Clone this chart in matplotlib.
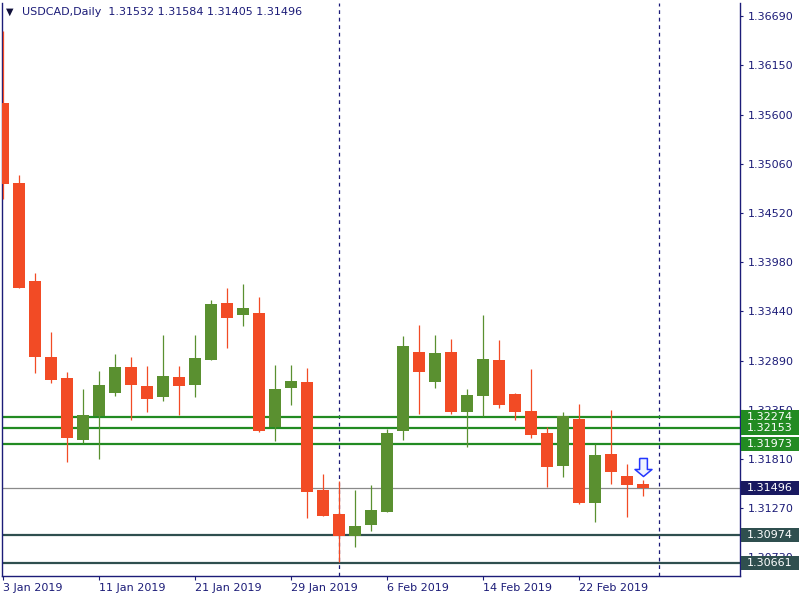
import matplotlib
matplotlib.use("Agg")
import matplotlib.pyplot as plt
import matplotlib.transforms as mtransforms
from matplotlib.patches import Rectangle
from matplotlib.path import Path
import pandas as pd

# USDCAD daily candles, 3 Jan - 28 Feb 2019
SYMBOL = "USDCAD,Daily"
dates = pd.bdate_range("2019-01-03", "2019-02-28")

opens = [1.35733, 1.34852, 1.33772, 1.32934, 1.32703, 1.32019, 1.32284, 1.32537,
         1.32824, 1.32614, 1.32493, 1.32714, 1.32625, 1.32901, 1.33529, 1.33397,
         1.33419, 1.32163, 1.32592, 1.32659, 1.31468, 1.31204, 1.30961, 1.31083,
         1.31226, 1.32119, 1.32989, 1.32659, 1.32989, 1.32328, 1.32504, 1.32901,
         1.32526, 1.32339, 1.32096, 1.31733, 1.32251, 1.31325, 1.31865, 1.31623,
         1.31532]
highs = [1.36527, 1.34940, 1.33860, 1.33210, 1.32769, 1.32581, 1.32780, 1.32967,
         1.32934, 1.32835, 1.33176, 1.32835, 1.33176, 1.33562, 1.33694, 1.33739,
         1.33595, 1.32846, 1.32846, 1.32813, 1.31645, 1.31568, 1.31468, 1.31523,
         1.32141, 1.33165, 1.33287, 1.33176, 1.33132, 1.32581, 1.33397, 1.33121,
         1.32537, 1.32802, 1.32163, 1.32328, 1.32416, 1.31975, 1.32350, 1.31755,
         1.31584]
lows = [1.34675, 1.33694, 1.32758, 1.32648, 1.31777, 1.31986, 1.31810, 1.32504,
        1.32240, 1.32328, 1.32449, 1.32295, 1.32493, 1.32901, 1.33033, 1.33276,
        1.32108, 1.32008, 1.32405, 1.31160, 1.31182, 1.30675, 1.30840, 1.31017,
        1.31226, 1.32019, 1.32306, 1.32592, 1.32306, 1.31942, 1.32284, 1.32372,
        1.32240, 1.32041, 1.31501, 1.31612, 1.31314, 1.31116, 1.31535, 1.31171,
        1.31405]
closes = [1.34841, 1.33694, 1.32934, 1.32681, 1.32041, 1.32295, 1.32625, 1.32824,
          1.32625, 1.32471, 1.32725, 1.32614, 1.32923, 1.33518, 1.33364, 1.33474,
          1.32119, 1.32581, 1.32670, 1.31446, 1.31182, 1.30961, 1.31072, 1.31248,
          1.32096, 1.33055, 1.32769, 1.32978, 1.32328, 1.32515, 1.32912, 1.32405,
          1.32328, 1.32075, 1.31722, 1.32284, 1.31325, 1.31854, 1.31667, 1.31523,
          1.31496]

green_levels = [1.32274, 1.32153, 1.31973]
slate_levels = [1.30974, 1.30661]
bid_price = closes[-1]

price_ticks = [1.36690, 1.36150, 1.35600, 1.35060, 1.34520, 1.33980, 1.33440,
               1.32890, 1.32350, 1.31810, 1.31270, 1.30730]

BULL = "#5a9030"
BEAR = "#f24b25"
NAVY = "#1c1c78"
GREEN_LINE = "#228b22"
SLATE = "#2f4f4f"

# plot area in pixels: x 2..740, y 3..576
fig = plt.figure(figsize=(8, 6), dpi=100)
ax = fig.add_axes([2 / 800, 24 / 600, 738 / 800, 573 / 600])
Y_LO, Y_HI = 1.30521, 1.36835

x = list(range(len(dates)))
for i in x:
    o, h, l, c = opens[i], highs[i], lows[i], closes[i]
    col = BULL if c >= o else BEAR
    ax.vlines(i, l, h, color=col, lw=0.9, zorder=3)
    ax.bar(i, max(abs(c - o), 0.00003), bottom=min(o, c), width=0.69,
           color=col, linewidth=0, zorder=3)

for lvl in green_levels:
    ax.axhline(lvl, color=GREEN_LINE, lw=1.6, zorder=2)
for lvl in slate_levels:
    ax.axhline(lvl, color=SLATE, lw=1.6, zorder=2)
ax.axhline(bid_price, color="#8a8a8a", lw=0.9, zorder=1)

# month separators (dashed)
future = pd.bdate_range(dates[0], "2019-03-08")
for i in range(1, len(future)):
    if future[i].month != future[i - 1].month:
        ax.axvline(i, color=NAVY, lw=0.9, ls=(0, (3, 3)), zorder=1)

# sell arrow above the last bar
arrow = Path([(-0.43, 1.0), (0.43, 1.0), (0.43, -0.22), (0.94, -0.22),
              (0.0, -1.0), (-0.94, -0.22), (-0.43, -0.22), (-0.43, 1.0)])
ax.plot(x[-1], highs[-1] + 0.00143, marker=arrow, ms=13, mfc="#eef3ff",
        mec="#2437ff", mew=1.1, zorder=6)

ax.set_xlim(-1 / 16, 737 / 16)
ax.set_ylim(Y_LO, Y_HI)

for side in ["left", "bottom", "right"]:
    ax.spines[side].set_color(NAVY)
    ax.spines[side].set_linewidth(1.0)
ax.spines["top"].set_visible(False)

ax.yaxis.tick_right()
ax.set_yticks(price_ticks)
ax.set_yticklabels([f"{p:.5f}" for p in price_ticks])
ax.tick_params(axis="y", direction="out", length=2.5, width=0.8, pad=3,
               colors=NAVY, labelsize=8)

xt = x[::6]
ax.set_xticks(xt)
ax.set_xticklabels([f"{d.day} {d:%b %Y}" for d in dates[::6]])
ax.tick_params(axis="x", direction="out", length=3, width=0.8, pad=2,
               colors=NAVY, labelsize=8)
for lab in ax.get_xticklabels():
    lab.set_ha("left")

# price tags on the right scale
tag_tf = mtransforms.blended_transform_factory(ax.transAxes, ax.transData)
px = (Y_HI - Y_LO) / 573
tags = [(p, GREEN_LINE) for p in green_levels] + [(bid_price, "#191960")] + \
       [(p, SLATE) for p in slate_levels]
for p, col in tags:
    ax.add_patch(Rectangle((1.0 + 1 / 738, p - 7 * px), 58 / 738, 14 * px,
                           transform=tag_tf, facecolor=col, edgecolor="none",
                           clip_on=False, zorder=8))
    ax.text(1.0 + 7 / 738, p, f"{p:.5f}", transform=tag_tf, ha="left",
            va="center", color="white", fontsize=8, clip_on=False, zorder=9)

fig.text(6 / 800, 1 - 12 / 600, "\u25bc", fontsize=7, color="#10103a", va="center")
fig.text(22 / 800, 1 - 12 / 600,
         f"{SYMBOL}  {opens[-1]:.5f} {highs[-1]:.5f} {lows[-1]:.5f} {closes[-1]:.5f}",
         fontsize=8, color=NAVY, va="center")

fig.savefig("out.png", dpi=100)
